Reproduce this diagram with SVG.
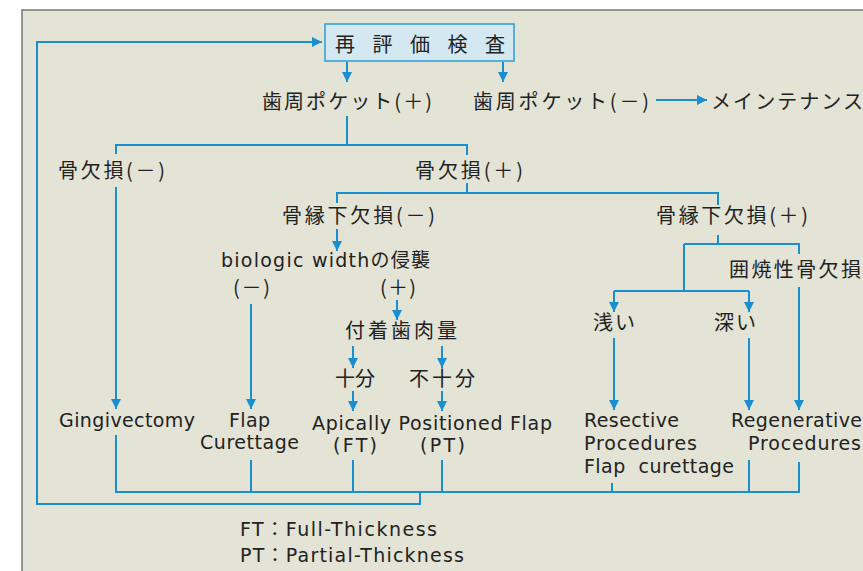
<svg xmlns="http://www.w3.org/2000/svg" width="863" height="571" viewBox="0 0 863 571">
<style>
.t{font-family:"Noto Sans CJK JP","DejaVu Sans",sans-serif;font-size:20px;fill:#222;}
.e{font-family:"DejaVu Sans","Noto Sans CJK JP",sans-serif;font-size:19px;fill:#222;}
.c{fill:none;stroke:#1a8fd0;stroke-width:2;}
</style>
<defs>
<marker id="ah" markerUnits="userSpaceOnUse" markerWidth="10" markerHeight="12" refX="10" refY="5" orient="auto" viewBox="0 0 10 10">
<path d="M0,0 L10,5 L0,10 Z" fill="#1a8fd0"/>
</marker>
</defs>
<rect x="0" y="0" width="863" height="571" fill="#ffffff"/>
<rect x="22" y="10" width="860" height="580" fill="#e3e3d6" stroke="#777" stroke-width="1.5"/>

<g id="connectors">
<path class="c" d="M420,492 V504 H37 V42 H322" marker-end="url(#ah)"/>
<path class="c" d="M347,62 V82" marker-end="url(#ah)"/>
<path class="c" d="M503,62 V82" marker-end="url(#ah)"/>
<path class="c" d="M656,100 H707" marker-end="url(#ah)"/>
<path class="c" d="M347,116 V145"/>
<path class="c" d="M116,154 V145 H467 V155"/>
<path class="c" d="M116,187 V409" marker-end="url(#ah)"/>
<path class="c" d="M467,183 V193"/>
<path class="c" d="M337,203 V193 H718 V205"/>
<path class="c" d="M337,229 V251" marker-end="url(#ah)"/>
<path class="c" d="M251,304 V409" marker-end="url(#ah)"/>
<path class="c" d="M397,300 V320" marker-end="url(#ah)"/>
<path class="c" d="M353,346 V368" marker-end="url(#ah)"/>
<path class="c" d="M442,346 V368" marker-end="url(#ah)"/>
<path class="c" d="M353,391 V411" marker-end="url(#ah)"/>
<path class="c" d="M442,391 V411" marker-end="url(#ah)"/>
<path class="c" d="M718,235 V244"/>
<path class="c" d="M684,244 H799 V254"/>
<path class="c" d="M684,244 V291"/>
<path class="c" d="M614,291 H749"/>
<path class="c" d="M614,291 V312" marker-end="url(#ah)"/>
<path class="c" d="M749,291 V312" marker-end="url(#ah)"/>
<path class="c" d="M614,338 V410" marker-end="url(#ah)"/>
<path class="c" d="M749,338 V410" marker-end="url(#ah)"/>
<path class="c" d="M799,287 V410" marker-end="url(#ah)"/>
<path class="c" d="M116,435 V492 H799 V462"/>
<path class="c" d="M251,460 V492"/>
<path class="c" d="M353,460 V492"/>
<path class="c" d="M442,460 V492"/>
<path class="c" d="M612,483 V492"/>
<path class="c" d="M749,460 V492"/>
</g>

<g id="n-reeval">
<rect x="325" y="24" width="189" height="37" fill="#d3e8f0" stroke="#2a9fd6" stroke-width="1.5"/>
<text class="t" x="335" y="52" font-size="23" textLength="170" lengthAdjust="spacing">再評価検査</text>
</g>
<g id="n-pocket-plus"><text class="t" x="262" y="109" textLength="170" lengthAdjust="spacing">歯周ポケット(＋)</text></g>
<g id="n-pocket-minus"><text class="t" x="473" y="109" textLength="176" lengthAdjust="spacing">歯周ポケット(－)</text></g>
<g id="n-maint"><text class="t" x="711" y="109" textLength="152" lengthAdjust="spacing">メインテナンス</text></g>
<g id="n-bone-minus"><text class="t" x="58" y="178" textLength="107" lengthAdjust="spacing">骨欠損(－)</text></g>
<g id="n-bone-plus"><text class="t" x="415" y="178" textLength="108" lengthAdjust="spacing">骨欠損(＋)</text></g>
<g id="n-infra-minus"><text class="t" x="282" y="223" textLength="153" lengthAdjust="spacing">骨縁下欠損(－)</text></g>
<g id="n-infra-plus"><text class="t" x="656" y="223" textLength="152" lengthAdjust="spacing">骨縁下欠損(＋)</text></g>
<g id="n-bw"><text class="e" x="221" y="267" textLength="209" lengthAdjust="spacing">biologic widthの侵襲</text></g>
<g id="n-bw-minus"><text class="t" x="233" y="295" font-size="18" textLength="37" lengthAdjust="spacing">(－)</text></g>
<g id="n-bw-plus"><text class="t" x="380" y="295" font-size="18" textLength="36" lengthAdjust="spacing">(＋)</text></g>
<g id="n-gingiva"><text class="t" x="345" y="338" textLength="112" lengthAdjust="spacing">付着歯肉量</text></g>
<g id="n-enough"><text class="t" x="335" y="386" textLength="40" lengthAdjust="spacing">十分</text></g>
<g id="n-notenough"><text class="t" x="409" y="386" textLength="66" lengthAdjust="spacing">不十分</text></g>
<g id="n-circ"><text class="t" x="729" y="277" textLength="132" lengthAdjust="spacing">囲焼性骨欠損</text></g>
<g id="n-shallow"><text class="t" x="593" y="330" textLength="42" lengthAdjust="spacing">浅い</text></g>
<g id="n-deep"><text class="t" x="714" y="330" textLength="42" lengthAdjust="spacing">深い</text></g>
<g id="n-gingivectomy"><text class="e" x="59" y="427" textLength="136" lengthAdjust="spacing">Gingivectomy</text></g>
<g id="n-flapcur">
<text class="e" x="229" y="427" textLength="41" lengthAdjust="spacing">Flap</text>
<text class="e" x="200" y="449" textLength="99" lengthAdjust="spacing">Curettage</text>
</g>
<g id="n-apf">
<text class="e" x="312" y="430" textLength="240" lengthAdjust="spacing">Apically Positioned Flap</text>
<text class="e" x="333" y="452" textLength="44" lengthAdjust="spacing">(FT)</text>
<text class="e" x="420" y="452" textLength="45" lengthAdjust="spacing">(PT)</text>
</g>
<g id="n-resective">
<text class="e" x="584" y="427" textLength="95" lengthAdjust="spacing">Resective</text>
<text class="e" x="584" y="450" textLength="113" lengthAdjust="spacing">Procedures</text>
<text class="e" x="584" y="473" textLength="150" lengthAdjust="spacing">Flap&#160; curettage</text>
</g>
<g id="n-regen">
<text class="e" x="731" y="427" textLength="131" lengthAdjust="spacing">Regenerative</text>
<text class="e" x="748" y="450" textLength="113" lengthAdjust="spacing">Procedures</text>
</g>
<g id="legend">
<text class="e" x="240" y="536" textLength="197" lengthAdjust="spacing">FT：Full-Thickness</text>
<text class="e" x="240" y="562" textLength="224" lengthAdjust="spacing">PT：Partial-Thickness</text>
</g>
</svg>
